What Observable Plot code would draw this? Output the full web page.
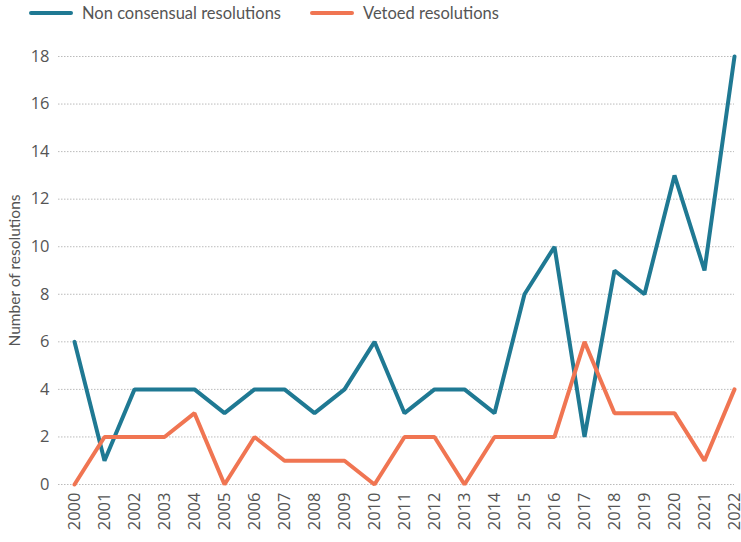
<!DOCTYPE html>
<html>
<head>
<meta charset="utf-8">
<script src="https://cdn.jsdelivr.net/npm/d3@7"></script>
<script src="https://cdn.jsdelivr.net/npm/@observablehq/plot@0.6"></script>
<style>
  body { margin: 0; background: #fff; font-family: Lato, "Open Sans", sans-serif; }
  #legend { height: 28px; position: relative; color: #555; font-size: 16.5px; }
  .item { position: absolute; top: 3px; display: flex; align-items: center; }
  .sw { width: 44px; height: 4.5px; border-radius: 3px; margin-right: 9px; }
</style>
</head>
<body>
<div id="legend"></div>
<div id="chart"></div>
<script>
const years = ["2000","2001","2002","2003","2004","2005","2006","2007","2008","2009","2010","2011","2012","2013","2014","2015","2016","2017","2018","2019","2020","2021","2022"];
const nonConsensual = [6,1,4,4,4,3,4,4,3,4,6,3,4,4,3,8,10,2,9,8,13,9,18];
const vetoed = [0,2,2,2,3,0,2,1,1,1,0,2,2,0,2,2,2,6,3,3,3,1,4];
const seriesNames = ["Non consensual resolutions", "Vetoed resolutions"];
const seriesColors = ["#1f7993", "#f07552"];
const yTicks = [0,2,4,6,8,10,12,14,16,18];

const data = [];
years.forEach((y, i) => {
  data.push({year: y, value: nonConsensual[i], series: seriesNames[0]});
  data.push({year: y, value: vetoed[i], series: seriesNames[1]});
});

const legend = document.getElementById("legend");
const lefts = [29, 310];
seriesNames.forEach((n, i) => {
  const d = document.createElement("div");
  d.className = "item";
  d.style.left = lefts[i] + "px";
  d.innerHTML = `<span class="sw" style="background:${seriesColors[i]}"></span><span>${n}</span>`;
  legend.appendChild(d);
});

const tickFont = "'Open Sans', Lato, sans-serif";
const chart = Plot.plot({
  width: 741,
  height: 514,
  marginTop: 28,
  marginBottom: 58,
  marginLeft: 73,
  marginRight: 7,
  style: {fontFamily: tickFont, fontSize: "16px", color: "#555"},
  x: {type: "point", domain: years, padding: 0, label: null},
  y: {domain: [0, 18], label: null},
  color: {domain: seriesNames, range: seriesColors},
  marks: [
    Plot.ruleY(yTicks, {stroke: "#bbb", strokeDasharray: "1.5,1.5", strokeWidth: 1, insetLeft: -15}),
    Plot.axisX({tickRotate: -90, tickSize: 0, tickPadding: 8, fontSize: 16.5, fill: "#555", label: null}),
    Plot.axisY({ticks: yTicks, tickSize: 0, tickPadding: 24, fontSize: 16.5, fill: "#555", label: null}),
    Plot.text(["Number of resolutions"], {frameAnchor: "left", rotate: -90, textAnchor: "middle", dx: -58, fontSize: 15.5, fill: "#555", fontFamily: "Lato, sans-serif"}),
    Plot.line(data, {x: "year", y: "value", z: "series", stroke: "series", strokeWidth: 4, strokeLinejoin: "miter", strokeLinecap: "round"})
  ]
});
document.getElementById("chart").appendChild(chart);
</script>
</body>
</html>
